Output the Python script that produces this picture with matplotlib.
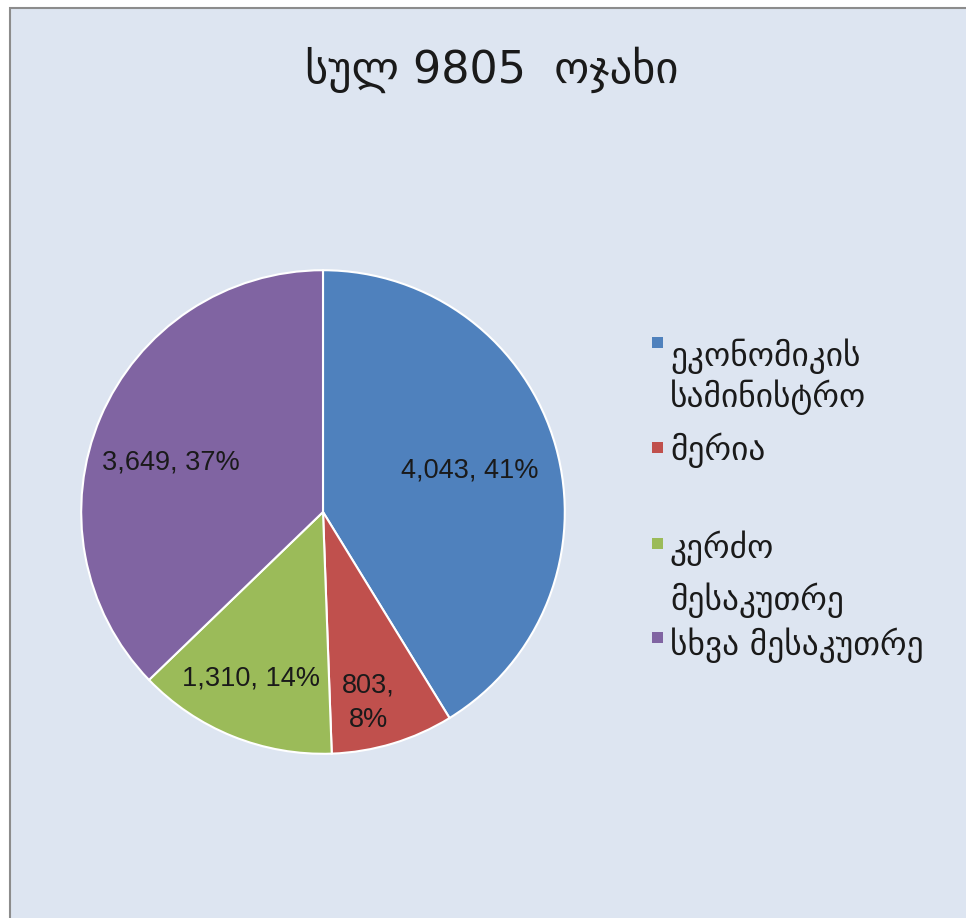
import matplotlib
matplotlib.use("Agg")
import matplotlib.pyplot as plt
from matplotlib.patches import Rectangle
import numpy as np

title = "სულ 9805  ოჯახი"
categories = ["ეკონომიკის\nსამინისტრო", "მერია", "კერძო\nმესაკუთრე", "სხვა მესაკუთრე"]
values = [4043, 803, 1310, 3649]
percents = ["41%", "8%", "14%", "37%"]
colors = ["#4F81BD", "#C0504D", "#9BBB59", "#8064A2"]

W, H = 966, 918
fig = plt.figure(figsize=(W / 100, H / 100), dpi=100)
fig.patch.set_facecolor("white")

bg = "#DDE5F1"
fig.patches.append(Rectangle((10 / W, -0.02), 1.0, 1.02 - 8 / H, transform=fig.transFigure,
                             facecolor=bg, edgecolor="#8C8C8C", linewidth=1.5, zorder=-5))

fig.text(492 / W, 1 - 70 / H, title, ha="center", va="center", fontsize=32,
         family=["DejaVu Sans"], color="#1a1a1a")

# pie axes: center (323, 512), radius 243
cx, cy, R = 323, 512, 243
ax = fig.add_axes([(cx - R) / W, 1 - (cy + R) / H, 2 * R / W, 2 * R / H])
ax.set_facecolor("none")
ax.set_zorder(2)
wedges, _ = ax.pie(values, colors=colors, startangle=90, counterclock=False,
                   wedgeprops=dict(edgecolor="white", linewidth=1.5), radius=1.0)
ax.set_xlim(-1.005, 1.005)
ax.set_ylim(-1.005, 1.005)
ax.set_aspect("auto")

label_r = [0.63, 0.81, 0.75, 0.66]
label_shift = [0, -3.5, -1.5, 5]  # degrees, to follow the reference placement
for w, v, p, r, sh in zip(wedges, values, percents, label_r, label_shift):
    mid = np.deg2rad((w.theta1 + w.theta2) / 2 + sh)
    x, y = r * np.cos(mid), r * np.sin(mid)
    if v < 1000:
        txt = f"{v:,},\n{p}"
    else:
        txt = f"{v:,}, {p}"
    ax.text(x, y, txt, ha="center", va="center", fontsize=19.5,
            family=["Liberation Sans"], color="#1a1a1a", linespacing=1.4)

# legend
leg_items = [(342, [356, 397]), (447, [450]), (543, [548, 600]), (637, [645])]
for (my, ty), lab, c in zip(leg_items, categories, colors):
    s = 11
    fig.patches.append(Rectangle((652 / W, 1 - (my + s / 2) / H), s / W, s / H,
                                 transform=fig.transFigure, facecolor=c, edgecolor="none",
                                 zorder=3))
    for line, yy in zip(lab.split("\n"), ty):
        fig.text(670 / W, 1 - yy / H, line, ha="left", va="center", fontsize=24,
                 family=["DejaVu Sans"], color="#1a1a1a")

fig.savefig("out.png", dpi=100, facecolor=fig.get_facecolor())
